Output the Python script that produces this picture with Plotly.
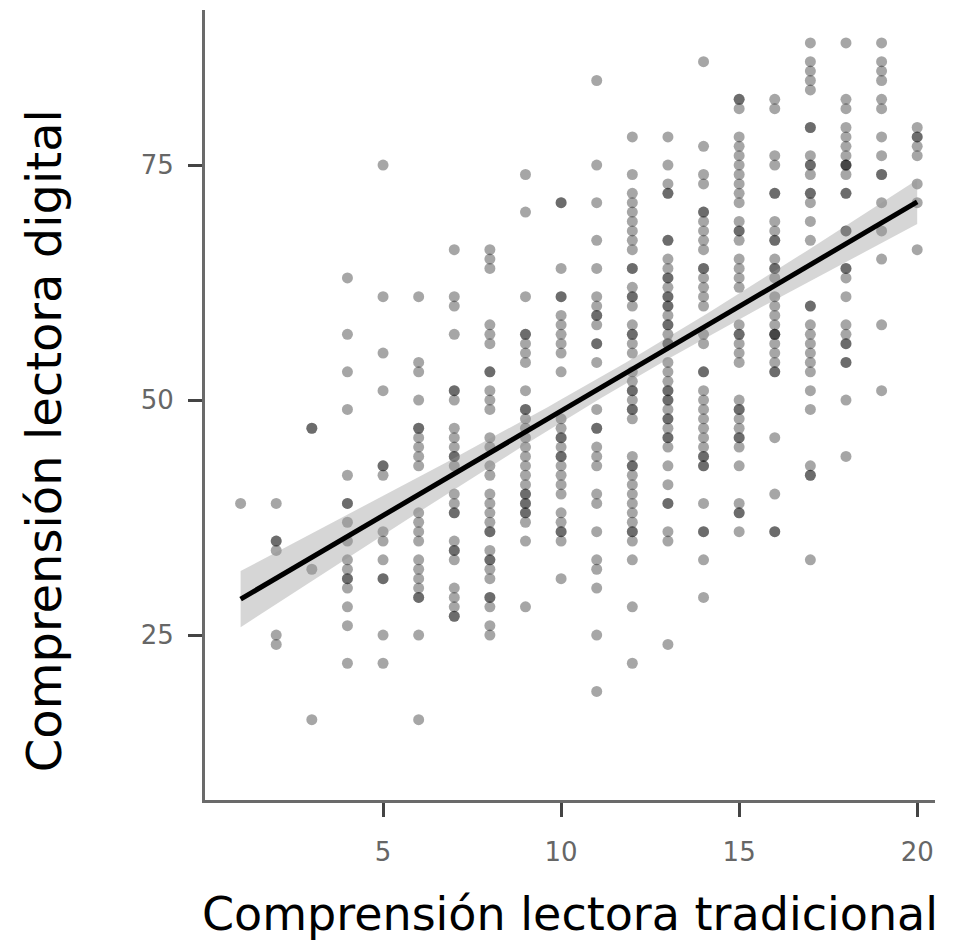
import numpy as np
import plotly.graph_objects as go

# Digital reading comprehension scores grouped by traditional reading score (x)
scores_by_x = {
    1: [39],
    2: [39, 35, 35, 34, 25, 24],
    3: [47, 47, 32, 16],
    4: [63, 57, 53, 49, 42, 39, 39, 37, 35, 33, 32, 31, 31, 30, 28, 26, 22],
    5: [75, 61, 55, 51, 43, 43, 42, 36, 35, 33, 31, 31, 25, 22],
    6: [61, 54, 53, 50, 47, 47, 46, 45, 44, 43, 38, 37, 36, 35, 33, 32, 31, 30, 29, 29, 25, 16],
    7: [66, 61, 60, 57, 51, 51, 50, 47, 46, 45, 44, 44, 43, 40, 39, 38, 38, 35, 34, 34, 33, 30, 29, 28, 27, 27],
    8: [66, 65, 64, 58, 57, 56, 53, 53, 51, 50, 49, 46, 45, 43, 42, 40, 39, 38, 37, 36, 36, 34, 33, 33, 32, 31, 29, 29, 28, 26, 25],
    9: [74, 70, 61, 57, 57, 56, 55, 54, 51, 49, 49, 48, 47, 46, 45, 44, 43, 42, 41, 40, 40, 39, 39, 38, 38, 37, 35, 28],
    10: [71, 71, 64, 61, 61, 59, 58, 57, 56, 55, 53, 48, 47, 46, 46, 45, 44, 44, 43, 42, 41, 40, 38, 37, 36, 36, 35, 31],
    11: [84, 75, 71, 67, 64, 61, 60, 59, 59, 58, 56, 56, 54, 49, 47, 47, 45, 44, 43, 40, 39, 36, 33, 32, 30, 25, 19],
    12: [78, 74, 72, 71, 70, 69, 68, 67, 66, 64, 64, 62, 61, 61, 60, 58, 57, 57, 56, 55, 53, 52, 51, 51, 50, 49, 49, 48,
         44, 43, 43, 42, 41, 40, 39, 38, 37, 36, 36, 35, 33, 28, 22],
    13: [78, 75, 73, 72, 72, 67, 67, 65, 64, 63, 63, 62, 61, 61, 60, 60, 59, 58, 58, 57, 56, 56, 54, 53, 52, 51, 51, 50,
         50, 49, 48, 48, 47, 46, 46, 45, 43, 41, 39, 39, 36, 35, 24],
    14: [86, 77, 74, 73, 70, 70, 69, 68, 67, 66, 64, 64, 63, 62, 61, 60, 57, 56, 53, 53, 51, 50, 49, 48, 47, 46, 45, 44,
         44, 43, 43, 39, 36, 36, 33, 29],
    15: [82, 82, 81, 78, 77, 76, 75, 74, 73, 72, 71, 69, 68, 68, 67, 65, 64, 63, 62, 58, 57, 57, 56, 55, 54, 50, 49, 49,
         48, 47, 46, 46, 45, 43, 39, 38, 38, 36],
    16: [82, 81, 76, 75, 72, 72, 69, 68, 67, 67, 65, 64, 64, 63, 61, 60, 59, 58, 57, 57, 57, 56, 55, 54, 53, 53, 46, 40, 36, 36],
    17: [88, 86, 85, 84, 83, 79, 79, 76, 75, 75, 74, 72, 72, 71, 69, 67, 60, 60, 58, 57, 56, 55, 54, 53, 51, 49, 43, 42, 42, 33],
    18: [88, 82, 81, 79, 78, 77, 76, 75, 75, 75, 74, 72, 72, 68, 68, 64, 64, 63, 61, 58, 57, 56, 56, 54, 54, 50, 44],
    19: [88, 86, 85, 84, 82, 81, 78, 76, 74, 74, 71, 68, 65, 58, 51],
    20: [79, 78, 78, 77, 76, 73, 71, 66],
}

x_tick_vals = [5, 10, 15, 20]
y_tick_vals = [25, 50, 75]
x_title = "Comprensión lectora tradicional"
y_title = "Comprensión lectora digital"

xs = np.array([k for k, v in scores_by_x.items() for _ in v], dtype=float)
ys = np.array([y for v in scores_by_x.values() for y in v], dtype=float)

# Linear regression with 95% confidence band
n = len(xs)
slope, intercept = np.polyfit(xs, ys, 1)
resid = ys - (intercept + slope * xs)
s = np.sqrt(np.sum(resid ** 2) / (n - 2))
xbar = xs.mean()
sxx = np.sum((xs - xbar) ** 2)
xfit = np.linspace(xs.min(), xs.max(), 80)
yfit = intercept + slope * xfit
se = s * np.sqrt(1.0 / n + (xfit - xbar) ** 2 / sxx)
tval = 1.96
upper = yfit + tval * se
lower = yfit - tval * se

fig = go.Figure()
fig.add_trace(go.Scatter(
    x=xs, y=ys, mode="markers",
    marker=dict(size=11, color="rgba(0,0,0,0.35)", line=dict(width=0)),
    hoverinfo="x+y", showlegend=False,
))
fig.add_trace(go.Scatter(
    x=np.concatenate([xfit, xfit[::-1]]),
    y=np.concatenate([upper, lower[::-1]]),
    fill="toself", fillcolor="rgba(153,153,153,0.4)",
    line=dict(width=0), mode="lines", hoverinfo="skip", showlegend=False,
))
fig.add_trace(go.Scatter(
    x=xfit, y=yfit, mode="lines",
    line=dict(color="black", width=5), hoverinfo="skip", showlegend=False,
))

axis_common = dict(
    showgrid=False, zeroline=False,
    showline=True, linecolor="#6a6a6a", linewidth=3,
    ticks="outside", ticklen=14, tickwidth=3, tickcolor="#444444",
    tickfont=dict(family="DejaVu Sans, Liberation Sans, sans-serif", size=26, color="#666666"),
)

fig.update_xaxes(range=[0.0, 20.5], tickvals=x_tick_vals, ticklabelstandoff=13, **axis_common)
fig.update_yaxes(range=[7.45, 91.5], tickvals=y_tick_vals, ticklabelstandoff=9, **axis_common)

fig.add_annotation(
    text=x_title, xref="paper", yref="paper", x=0.5, y=-0.144,
    xanchor="center", yanchor="middle", showarrow=False,
    font=dict(family="DejaVu Sans, Open Sans, sans-serif", size=46, color="black"),
)
fig.add_annotation(
    text=y_title, xref="paper", yref="paper", x=-0.221, y=0.455,
    xanchor="center", yanchor="middle", showarrow=False, textangle=-90,
    font=dict(family="DejaVu Sans, Open Sans, sans-serif", size=48, color="black"),
)

# page body has an 8px margin, so the figure is drawn 8px in from the top-left
fig.update_layout(
    width=945, height=932,
    margin=dict(l=197, r=18, t=2, b=140),
    plot_bgcolor="white", paper_bgcolor="white",
)

fig.write_html("out.html")
